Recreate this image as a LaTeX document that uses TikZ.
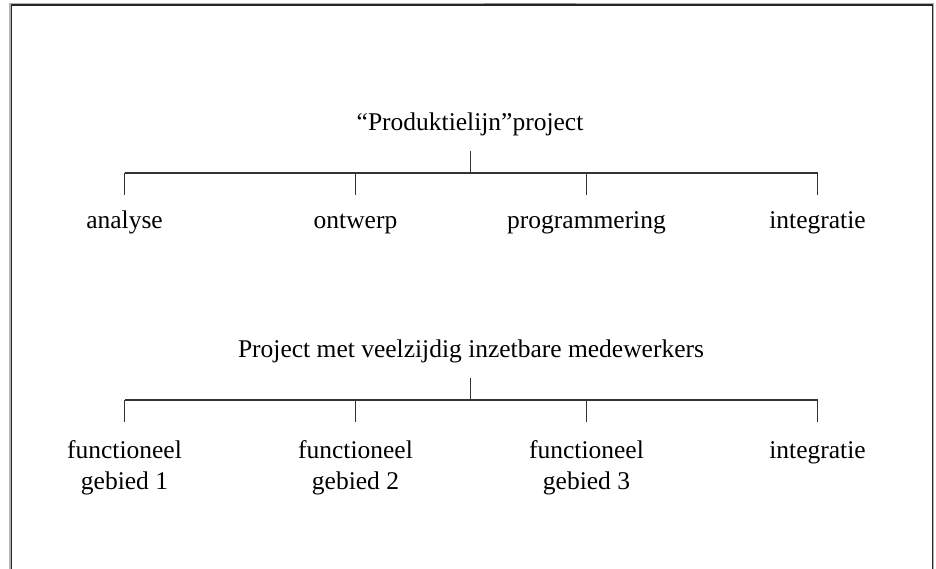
\documentclass[tikz,border=0pt]{standalone}
\usepackage{fontspec}
\setmainfont{Liberation Serif}
\begin{document}
\begin{tikzpicture}[x=1pt,y=-1pt,
  lbl/.style={anchor=base,inner sep=0pt,font=\fontsize{25.5}{31}\selectfont,align=center},
  tree/.style={draw=black!80,line width=1.3pt},
  frameline/.style={draw=black!85,line width=1.4pt}]
\useasboundingbox (0,0) rectangle (936,569);
% open frame
\draw[black!30,line width=1.2pt] (10,569) -- (10,3.6) -- (933.5,3.6) -- (933.5,569);
\draw[black!45,line width=1.4pt] (484,3.4) -- (576,3.4);
\draw[frameline] (11.3,569) -- (11.3,5) -- (932.3,5) -- (932.3,569);

% first tree
\node[lbl] (t1) at (470,131) {“Produktielijn”project};
\coordinate (s1) at (470.5,151);
\coordinate (j1) at (470.5,173);
\coordinate (b11) at (124.5,173);
\coordinate (b12) at (355.5,173);
\coordinate (b13) at (586.5,173);
\coordinate (b14) at (817.5,173);
\node[lbl] (a1) at (124.5,229) {analyse};
\node[lbl] (a2) at (355.5,229) {ontwerp};
\node[lbl] (a3) at (586.5,229) {programmering};
\node[lbl] (a4) at (817.5,229) {integratie};
\draw[tree] (s1) -- (j1);
\draw[tree] (b11) -- (b14);
\foreach \i in {1,...,4} \draw[tree] (b1\i) -- ++(0,22);

% second tree (two-line labels sit on the baseline of their last line)
\node[lbl] (t2) at (471,357) {Project met veelzijdig inzetbare medewerkers};
\coordinate (s2) at (470.5,378);
\coordinate (j2) at (470.5,400);
\coordinate (b21) at (124.5,400);
\coordinate (b22) at (355.5,400);
\coordinate (b23) at (586.5,400);
\coordinate (b24) at (817.5,400);
\node[lbl] (c1) at (124.5,489) {functioneel\\gebied 1};
\node[lbl] (c2) at (355.5,489) {functioneel\\gebied 2};
\node[lbl] (c3) at (586.5,489) {functioneel\\gebied 3};
\node[lbl] (c4) at (817.5,458) {integratie};
\draw[tree] (s2) -- (j2);
\draw[tree] (b21) -- (b24);
\foreach \i in {1,...,4} \draw[tree] (b2\i) -- ++(0,22);
\end{tikzpicture}
\end{document}
